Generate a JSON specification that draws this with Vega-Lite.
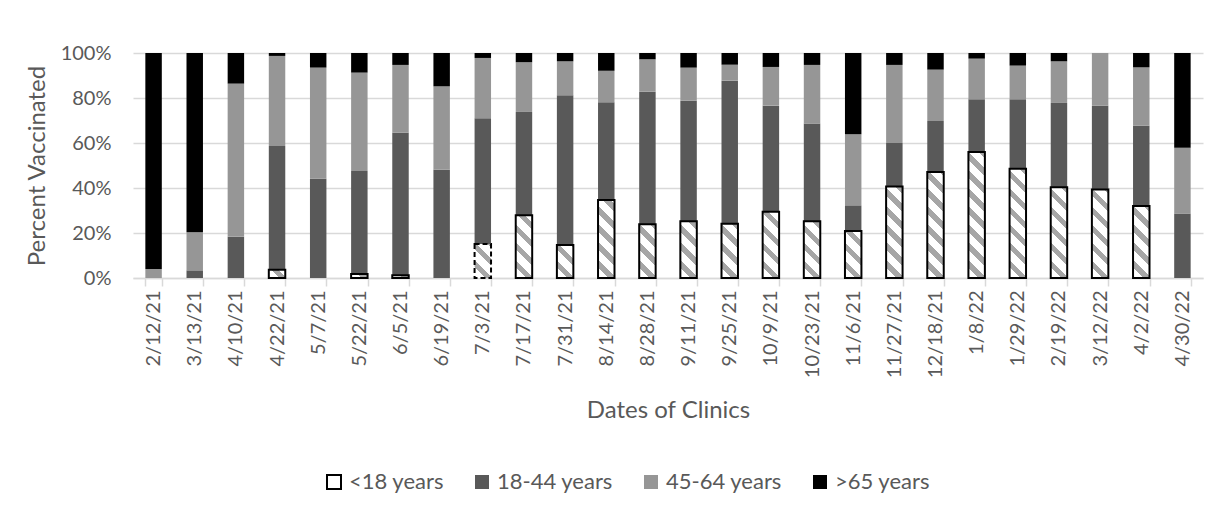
{
  "$schema": "https://vega.github.io/schema/vega-lite/v6.json",
  "width": 1070,
  "height": 225,
  "autosize": {"type": "none"},
  "padding": {"left": 133, "top": 53, "right": 17, "bottom": 232},
  "background": "white",
  "params": [
    {"name": "stripes", "value": [
      {"offset": 0, "color": "#ffffff"}, {"offset": 0.052727, "color": "#ffffff"}, {"offset": 0.052727, "color": "#a6a6a6"}, {"offset": 0.090909, "color": "#a6a6a6"},
      {"offset": 0.090909, "color": "#ffffff"}, {"offset": 0.143636, "color": "#ffffff"}, {"offset": 0.143636, "color": "#a6a6a6"}, {"offset": 0.181818, "color": "#a6a6a6"},
      {"offset": 0.181818, "color": "#ffffff"}, {"offset": 0.234545, "color": "#ffffff"}, {"offset": 0.234545, "color": "#a6a6a6"}, {"offset": 0.272727, "color": "#a6a6a6"},
      {"offset": 0.272727, "color": "#ffffff"}, {"offset": 0.325455, "color": "#ffffff"}, {"offset": 0.325455, "color": "#a6a6a6"}, {"offset": 0.363636, "color": "#a6a6a6"},
      {"offset": 0.363636, "color": "#ffffff"}, {"offset": 0.416364, "color": "#ffffff"}, {"offset": 0.416364, "color": "#a6a6a6"}, {"offset": 0.454545, "color": "#a6a6a6"},
      {"offset": 0.454545, "color": "#ffffff"}, {"offset": 0.507273, "color": "#ffffff"}, {"offset": 0.507273, "color": "#a6a6a6"}, {"offset": 0.545455, "color": "#a6a6a6"},
      {"offset": 0.545455, "color": "#ffffff"}, {"offset": 0.598182, "color": "#ffffff"}, {"offset": 0.598182, "color": "#a6a6a6"}, {"offset": 0.636364, "color": "#a6a6a6"},
      {"offset": 0.636364, "color": "#ffffff"}, {"offset": 0.689091, "color": "#ffffff"}, {"offset": 0.689091, "color": "#a6a6a6"}, {"offset": 0.727273, "color": "#a6a6a6"},
      {"offset": 0.727273, "color": "#ffffff"}, {"offset": 0.78, "color": "#ffffff"}, {"offset": 0.78, "color": "#a6a6a6"}, {"offset": 0.818182, "color": "#a6a6a6"},
      {"offset": 0.818182, "color": "#ffffff"}, {"offset": 0.870909, "color": "#ffffff"}, {"offset": 0.870909, "color": "#a6a6a6"}, {"offset": 0.909091, "color": "#a6a6a6"},
      {"offset": 0.909091, "color": "#ffffff"}, {"offset": 0.961818, "color": "#ffffff"}, {"offset": 0.961818, "color": "#a6a6a6"}, {"offset": 1, "color": "#a6a6a6"}
    ]}
  ],
  "data": {"values": [
    {"date": "2/12/21", "age": "<18 years", "v": 0}, {"date": "2/12/21", "age": "18-44 years", "v": 0}, {"date": "2/12/21", "age": "45-64 years", "v": 4}, {"date": "2/12/21", "age": ">65 years", "v": 96},
    {"date": "3/13/21", "age": "<18 years", "v": 0}, {"date": "3/13/21", "age": "18-44 years", "v": 3.4}, {"date": "3/13/21", "age": "45-64 years", "v": 16.9}, {"date": "3/13/21", "age": ">65 years", "v": 79.7},
    {"date": "4/10/21", "age": "<18 years", "v": 0}, {"date": "4/10/21", "age": "18-44 years", "v": 18.4}, {"date": "4/10/21", "age": "45-64 years", "v": 68}, {"date": "4/10/21", "age": ">65 years", "v": 13.6},
    {"date": "4/22/21", "age": "<18 years", "v": 3.7}, {"date": "4/22/21", "age": "18-44 years", "v": 55}, {"date": "4/22/21", "age": "45-64 years", "v": 40}, {"date": "4/22/21", "age": ">65 years", "v": 1.3},
    {"date": "5/7/21", "age": "<18 years", "v": 0}, {"date": "5/7/21", "age": "18-44 years", "v": 44.1}, {"date": "5/7/21", "age": "45-64 years", "v": 49.4}, {"date": "5/7/21", "age": ">65 years", "v": 6.5},
    {"date": "5/22/21", "age": "<18 years", "v": 1.8}, {"date": "5/22/21", "age": "18-44 years", "v": 45.8}, {"date": "5/22/21", "age": "45-64 years", "v": 43.7}, {"date": "5/22/21", "age": ">65 years", "v": 8.7},
    {"date": "6/5/21", "age": "<18 years", "v": 1.2}, {"date": "6/5/21", "age": "18-44 years", "v": 63.4}, {"date": "6/5/21", "age": "45-64 years", "v": 30.1}, {"date": "6/5/21", "age": ">65 years", "v": 5.3},
    {"date": "6/19/21", "age": "<18 years", "v": 0}, {"date": "6/19/21", "age": "18-44 years", "v": 48.1}, {"date": "6/19/21", "age": "45-64 years", "v": 37.1}, {"date": "6/19/21", "age": ">65 years", "v": 14.8},
    {"date": "7/3/21", "age": "<18 years", "v": 15.1}, {"date": "7/3/21", "age": "18-44 years", "v": 55.9}, {"date": "7/3/21", "age": "45-64 years", "v": 26.8}, {"date": "7/3/21", "age": ">65 years", "v": 2.2},
    {"date": "7/17/21", "age": "<18 years", "v": 27.9}, {"date": "7/17/21", "age": "18-44 years", "v": 45.9}, {"date": "7/17/21", "age": "45-64 years", "v": 22.1}, {"date": "7/17/21", "age": ">65 years", "v": 4.1},
    {"date": "7/31/21", "age": "<18 years", "v": 14.7}, {"date": "7/31/21", "age": "18-44 years", "v": 66.5}, {"date": "7/31/21", "age": "45-64 years", "v": 15.1}, {"date": "7/31/21", "age": ">65 years", "v": 3.7},
    {"date": "8/14/21", "age": "<18 years", "v": 34.7}, {"date": "8/14/21", "age": "18-44 years", "v": 43.4}, {"date": "8/14/21", "age": "45-64 years", "v": 14}, {"date": "8/14/21", "age": ">65 years", "v": 7.9},
    {"date": "8/28/21", "age": "<18 years", "v": 23.9}, {"date": "8/28/21", "age": "18-44 years", "v": 58.9}, {"date": "8/28/21", "age": "45-64 years", "v": 14.4}, {"date": "8/28/21", "age": ">65 years", "v": 2.8},
    {"date": "9/11/21", "age": "<18 years", "v": 25.2}, {"date": "9/11/21", "age": "18-44 years", "v": 53.6}, {"date": "9/11/21", "age": "45-64 years", "v": 14.7}, {"date": "9/11/21", "age": ">65 years", "v": 6.5},
    {"date": "9/25/21", "age": "<18 years", "v": 24.1}, {"date": "9/25/21", "age": "18-44 years", "v": 63.6}, {"date": "9/25/21", "age": "45-64 years", "v": 7.1}, {"date": "9/25/21", "age": ">65 years", "v": 5.2},
    {"date": "10/9/21", "age": "<18 years", "v": 29.5}, {"date": "10/9/21", "age": "18-44 years", "v": 47.1}, {"date": "10/9/21", "age": "45-64 years", "v": 17.2}, {"date": "10/9/21", "age": ">65 years", "v": 6.2},
    {"date": "10/23/21", "age": "<18 years", "v": 25.2}, {"date": "10/23/21", "age": "18-44 years", "v": 43.5}, {"date": "10/23/21", "age": "45-64 years", "v": 26}, {"date": "10/23/21", "age": ">65 years", "v": 5.3},
    {"date": "11/6/21", "age": "<18 years", "v": 20.9}, {"date": "11/6/21", "age": "18-44 years", "v": 11.4}, {"date": "11/6/21", "age": "45-64 years", "v": 31.6}, {"date": "11/6/21", "age": ">65 years", "v": 36.1},
    {"date": "11/27/21", "age": "<18 years", "v": 40.7}, {"date": "11/27/21", "age": "18-44 years", "v": 19.3}, {"date": "11/27/21", "age": "45-64 years", "v": 34.7}, {"date": "11/27/21", "age": ">65 years", "v": 5.3},
    {"date": "12/18/21", "age": "<18 years", "v": 47.1}, {"date": "12/18/21", "age": "18-44 years", "v": 22.7}, {"date": "12/18/21", "age": "45-64 years", "v": 22.8}, {"date": "12/18/21", "age": ">65 years", "v": 7.4},
    {"date": "1/8/22", "age": "<18 years", "v": 56}, {"date": "1/8/22", "age": "18-44 years", "v": 23.4}, {"date": "1/8/22", "age": "45-64 years", "v": 18.1}, {"date": "1/8/22", "age": ">65 years", "v": 2.5},
    {"date": "1/29/22", "age": "<18 years", "v": 48.6}, {"date": "1/29/22", "age": "18-44 years", "v": 30.8}, {"date": "1/29/22", "age": "45-64 years", "v": 15}, {"date": "1/29/22", "age": ">65 years", "v": 5.6},
    {"date": "2/19/22", "age": "<18 years", "v": 40.3}, {"date": "2/19/22", "age": "18-44 years", "v": 37.5}, {"date": "2/19/22", "age": "45-64 years", "v": 18.5}, {"date": "2/19/22", "age": ">65 years", "v": 3.7},
    {"date": "3/12/22", "age": "<18 years", "v": 39.3}, {"date": "3/12/22", "age": "18-44 years", "v": 37.3}, {"date": "3/12/22", "age": "45-64 years", "v": 23.4}, {"date": "3/12/22", "age": ">65 years", "v": 0},
    {"date": "4/2/22", "age": "<18 years", "v": 32}, {"date": "4/2/22", "age": "18-44 years", "v": 35.7}, {"date": "4/2/22", "age": "45-64 years", "v": 25.9}, {"date": "4/2/22", "age": ">65 years", "v": 6.4},
    {"date": "4/30/22", "age": "<18 years", "v": 0}, {"date": "4/30/22", "age": "18-44 years", "v": 28.7}, {"date": "4/30/22", "age": "45-64 years", "v": 29.2}, {"date": "4/30/22", "age": ">65 years", "v": 42.1}
  ]},
  "transform": [
    {"calculate": "indexof(['<18 years','18-44 years','45-64 years','>65 years'], datum.age)", "as": "ord"}
  ],
  "layer": [
    {
      "mark": {"type": "bar"},
      "encoding": {
        "x": {
          "field": "date", "type": "nominal", "sort": null,
          "scale": {
            "domain": ["2/12/21","3/13/21","4/10/21","4/22/21","5/7/21","5/22/21","6/5/21","6/19/21","7/3/21","7/17/21","7/31/21","8/14/21","8/28/21","9/11/21","9/25/21","10/9/21","10/23/21","11/6/21","11/27/21","12/18/21","1/8/22","1/29/22","2/19/22","3/12/22","4/2/22","4/30/22"],
            "paddingInner": 0.6, "paddingOuter": 0.3
          },
          "axis": {
            "title": "Dates of Clinics", "labelAngle": -90, "tickBand": "extent",
            "ticks": true, "tickColor": "#d9d9d9", "tickSize": 8, "tickWidth": 1.5,
            "domain": true, "domainColor": "#d9d9d9", "domainWidth": 1.5,
            "labelPadding": 4, "titlePadding": 21, "grid": false,
            "labelFontSize": 20, "titleFontSize": 24
          }
        },
        "y": {
          "field": "v", "type": "quantitative", "stack": "zero",
          "scale": {"domain": [0, 100], "nice": false},
          "axis": {
            "title": "Percent Vaccinated", "values": [0, 20, 40, 60, 80, 100],
            "labelExpr": "datum.value + '%'", "domain": false, "ticks": false,
            "grid": true, "gridColor": "#d9d9d9", "gridWidth": 1.5,
            "labelPadding": 22, "titlePadding": 11,
            "labelFontSize": 20, "titleFontSize": 24
          }
        },
        "color": {
          "field": "age", "type": "nominal",
          "scale": {
            "domain": ["<18 years", "18-44 years", "45-64 years", ">65 years"],
            "range": ["#ffffff", "#595959", "#969696", "#000000"]
          },
          "legend": {
            "orient": "none", "legendX": 190, "legendY": 418, "direction": "horizontal",
            "title": null, "symbolType": "square", "symbolSize": 196,
            "labelFontSize": 22, "labelColor": "#595959", "columnPadding": 27, "labelOffset": 4,
            "padding": 0,
            "encode": {"symbols": {"update": {
              "stroke": {"signal": "datum.value === '<18 years' ? '#000000' : 'transparent'"},
              "strokeWidth": {"value": 2}
            }}}
          }
        },
        "order": {"field": "ord", "type": "quantitative"}
      }
    },
    {
      "transform": [{"filter": "datum.age === '<18 years' && datum.v > 0"}],
      "mark": {
        "type": "bar",
        "fill": {"expr": "{gradient: 'linear', x1: 0, y1: 1, x2: 198*16.46/(270.9 + pow(datum.v*2.25, 2)), y2: 1 - 198*datum.v*2.25/(270.9 + pow(datum.v*2.25, 2)), stops: stripes}"},
        "stroke": "#000000", "strokeWidth": 2
      },
      "encoding": {
        "x": {"field": "date", "type": "nominal", "sort": null},
        "y": {"field": "v", "type": "quantitative", "stack": null},
        "strokeDash": {"condition": {"test": "datum.date === '7/3/21'", "value": [5, 3]}, "value": [1, 0]}
      }
    }
  ],
  "config": {
    "font": "Lato",
    "view": {"stroke": null},
    "axis": {"labelColor": "#595959", "titleColor": "#595959", "labelFont": "Lato", "titleFont": "Lato", "titleFontWeight": "normal"},
    "legend": {"labelFont": "Lato"}
  }
}
